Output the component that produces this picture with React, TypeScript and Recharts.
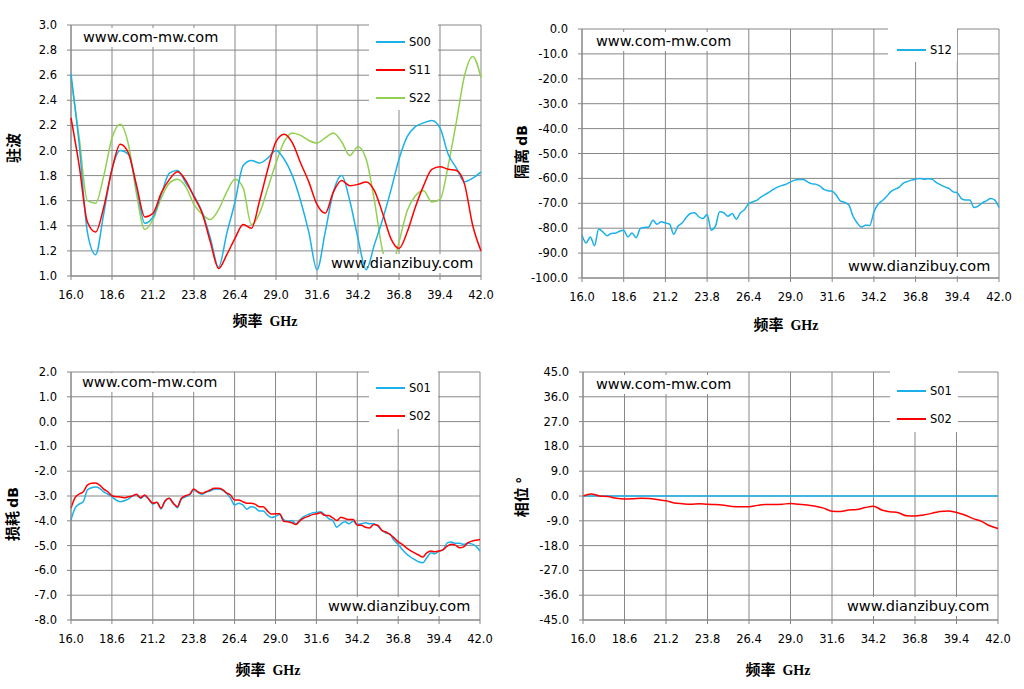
import React from 'react'
import { LineChart, Line, XAxis, YAxis, CartesianGrid, Legend } from 'recharts'

// 频率点 (GHz)
const freqCoarse = [
  16, 16.52, 17.04, 17.56, 18.08, 18.6, 19.12, 19.64, 20.16, 20.68,
  21.2, 21.72, 22.24, 22.76, 23.28, 23.8, 24.32, 24.84, 25.36, 25.88,
  26.4, 26.92, 27.44, 27.96, 28.48, 29, 29.52, 30.04, 30.56, 31.08,
  31.6, 32.12, 32.64, 33.16, 33.68, 34.2, 34.72, 35.24, 35.76, 36.28,
  36.8, 37.32, 37.84, 38.36, 38.88, 39.4, 39.92, 40.44, 40.96, 41.48, 42,
]
const freqFine = [
  16, 16.26, 16.52, 16.78, 17.04, 17.3, 17.56, 17.82, 18.08, 18.34,
  18.6, 18.86, 19.12, 19.38, 19.64, 19.9, 20.16, 20.42, 20.68, 20.94,
  21.2, 21.46, 21.72, 21.98, 22.24, 22.5, 22.76, 23.02, 23.28, 23.54,
  23.8, 24.06, 24.32, 24.58, 24.84, 25.1, 25.36, 25.62, 25.88, 26.14,
  26.4, 26.66, 26.92, 27.18, 27.44, 27.7, 27.96, 28.22, 28.48, 28.74,
  29, 29.26, 29.52, 29.78, 30.04, 30.3, 30.56, 30.82, 31.08, 31.34,
  31.6, 31.86, 32.12, 32.38, 32.64, 32.9, 33.16, 33.42, 33.68, 33.94,
  34.2, 34.46, 34.72, 34.98, 35.24, 35.5, 35.76, 36.02, 36.28, 36.54,
  36.8, 37.06, 37.32, 37.58, 37.84, 38.1, 38.36, 38.62, 38.88, 39.14,
  39.4, 39.66, 39.92, 40.18, 40.44, 40.7, 40.96, 41.22, 41.48, 41.74, 42,
]

const xTicks = [16, 18.6, 21.2, 23.8, 26.4, 29, 31.6, 34.2, 36.8, 39.4, 42]
const vswrTicks = [1, 1.2, 1.4, 1.6, 1.8, 2, 2.2, 2.4, 2.6, 2.8, 3]
const isoTicks = [-100, -90, -80, -70, -60, -50, -40, -30, -20, -10, 0]
const lossTicks = [-8, -7, -6, -5, -4, -3, -2, -1, 0, 1, 2]
const phaseTicks = [-45, -36, -27, -18, -9, 0, 9, 18, 27, 36, 45]

// 驻波
const vswrS00 = [
  2.61, 2.05, 1.35, 1.17, 1.5, 1.85, 2.0, 1.97, 1.7, 1.42,
  1.47, 1.65, 1.82, 1.84, 1.74, 1.64, 1.51, 1.3, 1.07, 1.34,
  1.59, 1.88, 1.92, 1.9, 1.94, 2.0, 1.93, 1.8, 1.6, 1.35,
  1.05, 1.35, 1.67, 1.8, 1.6, 1.3, 1.05, 1.25, 1.45, 1.68,
  1.93, 2.11, 2.19, 2.22, 2.24, 2.18, 1.97, 1.86, 1.75, 1.78, 1.83,
]
const vswrS11 = [
  2.26, 1.88, 1.43, 1.35, 1.55, 1.85, 2.05, 1.98, 1.72, 1.47,
  1.5, 1.66, 1.77, 1.83, 1.76, 1.63, 1.5, 1.27, 1.06, 1.17,
  1.3, 1.41, 1.38, 1.6, 1.85, 2.07, 2.13, 2.06, 1.9, 1.75,
  1.57, 1.5, 1.67, 1.76, 1.72, 1.73, 1.75, 1.68, 1.5, 1.3,
  1.22, 1.35, 1.55, 1.72, 1.85, 1.87, 1.85, 1.84, 1.73, 1.4, 1.2,
]
const vswrS22 = [
  2.57, 2.1, 1.6, 1.58, 1.8, 2.1, 2.21, 2.05, 1.65, 1.37,
  1.45, 1.62, 1.74, 1.77, 1.71, 1.57, 1.49, 1.45, 1.53, 1.67,
  1.77, 1.7, 1.41, 1.5, 1.7, 1.9, 2.07, 2.14, 2.12, 2.08,
  2.06, 2.1, 2.14, 2.07, 1.96, 2.03, 1.93, 1.6, 1.2, 1.05,
  1.27, 1.52, 1.64, 1.68, 1.59, 1.61, 1.88, 2.23, 2.6, 2.75, 2.58,
]

// 隔离
const isoS12 = [
  -82.8, -85.9, -83.5, -87, -80.3, -81.5, -83, -82.1, -82, -81.2,
  -80.8, -83.5, -81.9, -83.8, -80.1, -79.7, -79.5, -76.8, -78.4, -77.4,
  -77.9, -78.4, -82.4, -79.2, -77.9, -75.7, -74.1, -73.8, -75.4, -76.1,
  -74.5, -80.8, -79.2, -73.4, -73.8, -75.2, -74.1, -76.4, -73.8, -72.5,
  -70.1, -69.4, -68.7, -67.4, -66.4, -65.4, -64.3, -63.4, -62.8, -62.3,
  -61.4, -60.7, -60.4, -60.4, -61.3, -62.1, -62.3, -63, -64.4, -65,
  -65.2, -66.8, -69.1, -69.6, -70.7, -75.2, -77.9, -79.5, -78.8, -78.9,
  -73.5, -70.4, -69, -67.4, -65.4, -64.4, -63.6, -62, -61.3, -60.7,
  -60.3, -60, -60.3, -60.1, -60.4, -61.7, -62.6, -63.4, -64, -65.4,
  -65.8, -68.1, -68.7, -68.7, -71.7, -71.1, -69.8, -69, -68.1, -68.7, -71.7,
]

// 损耗
const lossS01 = [
  -3.96, -3.49, -3.33, -3.23, -2.76, -2.67, -2.64, -2.69, -2.83, -2.92,
  -3.03, -3.16, -3.23, -3.19, -3.13, -3.0, -2.96, -3.09, -3.0, -3.12,
  -3.33, -3.25, -3.52, -3.2, -3.09, -3.29, -3.47, -3.12, -3.03, -2.96,
  -2.76, -2.85, -2.93, -2.85, -2.8, -2.73, -2.72, -2.76, -2.89, -3.09,
  -3.36, -3.29, -3.36, -3.53, -3.43, -3.47, -3.6, -3.6, -3.76, -3.87,
  -3.82, -3.75, -3.95, -4.02, -3.99, -4.12, -3.95, -3.82, -3.75, -3.68,
  -3.66, -3.64, -3.75, -3.91, -3.99, -4.26, -4.12, -4.04, -4.12, -4.02,
  -4.15, -4.12, -4.08, -4.12, -4.12, -4.22, -4.39, -4.49, -4.55, -4.79,
  -4.95, -5.16, -5.33, -5.46, -5.56, -5.65, -5.69, -5.49, -5.29, -5.33,
  -5.22, -5.16, -4.89, -4.85, -4.91, -4.91, -4.95, -4.91, -4.93, -5.02, -5.22,
]
const lossS02 = [
  -3.49, -3.07, -2.92, -2.83, -2.56, -2.49, -2.48, -2.56, -2.72, -2.83,
  -2.99, -3.03, -3.04, -3.07, -3.03, -3.0, -2.93, -3.07, -2.96, -3.12,
  -3.29, -3.25, -3.49, -3.2, -3.09, -3.29, -3.43, -3.09, -2.99, -2.93,
  -2.72, -2.83, -2.89, -2.83, -2.76, -2.69, -2.69, -2.73, -2.87, -2.96,
  -3.16, -3.16, -3.23, -3.29, -3.29, -3.33, -3.43, -3.43, -3.6, -3.73,
  -3.72, -3.72, -4.02, -4.04, -4.08, -4.15, -3.99, -3.88, -3.82, -3.75,
  -3.72, -3.68, -3.78, -3.79, -3.88, -3.99, -3.86, -3.91, -3.95, -3.95,
  -4.18, -4.18, -4.26, -4.29, -4.15, -4.18, -4.39, -4.45, -4.55, -4.69,
  -4.85, -4.95, -5.09, -5.2, -5.29, -5.38, -5.46, -5.29, -5.22, -5.25,
  -5.22, -5.16, -5.02, -4.95, -4.98, -5.09, -5.05, -4.89, -4.82, -4.78, -4.75,
]

// 相位
const phaseS01 = [
  0, 0, 0, 0, 0, 0, 0, 0, 0, 0,
  0, 0, 0, 0, 0, 0, 0, 0, 0, 0,
  0, 0, 0, 0, 0, 0, 0, 0, 0, 0,
  0, 0, 0, 0, 0, 0, 0, 0, 0, 0,
  0, 0, 0, 0, 0, 0, 0, 0, 0, 0, 0,
]
const phaseS02 = [
  0, 0.7, 0, -0.2, -0.8, -1.1, -1.0, -0.8, -0.9, -1.3,
  -1.75, -2.5, -2.8, -3.0, -2.8, -3.0, -3.1, -3.4, -3.8, -3.9,
  -3.9, -3.4, -3.1, -3.1, -3.0, -2.7, -3.0, -3.3, -3.7, -4.4,
  -5.5, -5.6, -5.1, -4.9, -4.2, -3.7, -5.1, -5.7, -6.1, -7.2,
  -7.3, -6.9, -6.3, -5.6, -5.4, -6.0, -6.9, -8.2, -9.2, -10.8, -11.8,
]

const BLUE = '#1ab1ea'
const RED = '#ff0000'
const GREEN = '#92d050'
const GRID = '#878787'
const FONT = 'DejaVu Sans'
const CJK = '"Noto Sans CJK SC", sans-serif'

const vswrData = freqCoarse.map((f, i) => ({ f, S00: vswrS00[i], S11: vswrS11[i], S22: vswrS22[i] }))
const isoData = freqFine.map((f, i) => ({ f, S12: isoS12[i] }))
const lossData = freqFine.map((f, i) => ({ f, S01: lossS01[i], S02: lossS02[i] }))
const phaseData = freqCoarse.map((f, i) => ({ f, S01: phaseS01[i], S02: phaseS02[i] }))

const fmt = (v: number) => v.toFixed(1)
const tickStyle = { fontSize: 11.5, fill: '#000', fontFamily: FONT }

// 网址水印（白底）
function Mark({ text, x, y }: { text: string; x: number; y: number }) {
  return (
    <div style={{
      position: 'absolute', left: x - 3, top: y - 9.5, padding: '0 3px', background: '#fff',
      fontFamily: FONT, fontSize: 14.5, lineHeight: '19px', color: '#000', whiteSpace: 'nowrap',
    }}>{text}</div>
  )
}

function Panel({ plot, data, series, yDomain, yTicks, legend, marks }: any) {
  // 半像素偏移，让网格线更清晰
  const ox = plot.x - 60 + 0.5
  const oy = plot.y - 10 + 0.5
  const W = plot.w + 85
  const H = plot.h + 70
  const base = series.filter((s: any) => !s.over)
  const top = series.filter((s: any) => s.over)
  const renderLegend = () => (
    <div style={{ width: legend.w, height: legend.h, background: '#fff', position: 'relative' }}>
      {series.map((s: any, i: number) => (
        <div key={s.key} style={{
          position: 'absolute', left: legend.lineX - legend.x, top: legend.rowY - legend.y + i * legend.gap - 8,
          height: 16, display: 'flex', alignItems: 'center', fontFamily: FONT, fontSize: 11.5, color: '#000',
        }}>
          <span style={{ width: 29, height: 0, borderTop: `2px solid ${s.color}` }} />
          <span style={{ marginLeft: 4 }}>{s.key}</span>
        </div>
      ))}
    </div>
  )
  const line = (s: any) => (
    <Line key={s.key} type="monotone" dataKey={s.key} name={s.key} stroke={s.color} strokeWidth={1.5}
      dot={false} activeDot={false} isAnimationActive={false} />
  )
  return (
    <>
      <div style={{ position: 'absolute', left: ox, top: oy }}>
        <LineChart width={W} height={H} data={data} margin={{ top: 10, right: 25, bottom: 30, left: 0 }}>
          <CartesianGrid stroke={GRID} strokeWidth={1} />
          <XAxis type="number" dataKey="f" domain={[16, 42]} ticks={xTicks} interval={0}
            tickFormatter={fmt} stroke={GRID} tickSize={4} tickMargin={11} height={30} tick={tickStyle} />
          <YAxis type="number" domain={yDomain} ticks={yTicks} interval={0} allowDataOverflow
            tickFormatter={fmt} stroke={GRID} tickSize={4} tickMargin={10} width={60} tick={tickStyle} />
          <Legend layout="horizontal" verticalAlign="middle" align="center" content={renderLegend}
            width={legend.w} height={legend.h}
            wrapperStyle={{ left: legend.x - ox, top: legend.y - oy, width: legend.w, height: legend.h, margin: 0 }} />
          {base.map(line)}
        </LineChart>
      </div>
      {marks.map((m: any) => <Mark key={m.text} text={m.text} x={m.x} y={m.y} />)}
      {top.length > 0 && (
        <div style={{ position: 'absolute', left: ox, top: oy }}>
          <LineChart width={W} height={H} data={data} margin={{ top: 10, right: 25, bottom: 60, left: 60 }}>
            <XAxis hide type="number" dataKey="f" domain={[16, 42]} ticks={xTicks} />
            <YAxis hide type="number" domain={yDomain} ticks={yTicks} allowDataOverflow />
            {top.map(line)}
          </LineChart>
        </div>
      )}
    </>
  )
}

function Title({ cn, en, x, y, rotate }: { cn: string; en: string; x: number; y: number; rotate?: boolean }) {
  return (
    <div style={{
      position: 'absolute', left: x, top: y, whiteSpace: 'pre',
      transform: `translate(-50%, -50%)${rotate ? ' rotate(-90deg)' : ''}`,
      fontFamily: CJK, fontWeight: 700, fontSize: 15, color: '#000', lineHeight: '18px',
    }}>
      {cn}
      <span style={{ fontFamily: rotate ? FONT : '"Liberation Serif", serif', fontSize: 14 }}>{en}</span>
    </div>
  )
}

const comMw = 'www.com-mw.com'
const dianzi = 'www.dianzibuy.com'

export default function App() {
  return (
    <div style={{ position: 'absolute', left: 0, top: 0, width: 1024, height: 689, background: '#fff', overflow: 'hidden' }}>
      {/* 驻波 */}
      <Panel plot={{ x: 70, y: 24, w: 410, h: 251 }} data={vswrData}
        series={[{ key: 'S00', color: BLUE, over: true }, { key: 'S11', color: RED, over: true }, { key: 'S22', color: GREEN }]}
        yDomain={[1, 3]} yTicks={vswrTicks}
        legend={{ x: 369, y: 24, w: 69, h: 86, lineX: 376, rowY: 42, gap: 28 }}
        marks={[{ text: comMw, x: 83, y: 37 }, { text: dianzi, x: 331, y: 263 }]} />
      {/* 隔离 */}
      <Panel plot={{ x: 581, y: 28, w: 417, h: 249 }} data={isoData}
        series={[{ key: 'S12', color: BLUE }]}
        yDomain={[-100, 0]} yTicks={isoTicks}
        legend={{ x: 888, y: 28, w: 69, h: 34, lineX: 897, rowY: 50, gap: 28 }}
        marks={[{ text: comMw, x: 596, y: 41 }, { text: dianzi, x: 848, y: 266 }]} />
      {/* 损耗 */}
      <Panel plot={{ x: 70, y: 371, w: 409, h: 248 }} data={lossData}
        series={[{ key: 'S01', color: BLUE }, { key: 'S02', color: RED }]}
        yDomain={[-8, 2]} yTicks={lossTicks}
        legend={{ x: 369, y: 371, w: 69, h: 58, lineX: 376, rowY: 388, gap: 27.6 }}
        marks={[{ text: comMw, x: 82, y: 382 }, { text: dianzi, x: 328, y: 606 }]} />
      {/* 相位 */}
      <Panel plot={{ x: 582, y: 371, w: 415, h: 248 }} data={phaseData}
        series={[{ key: 'S01', color: BLUE }, { key: 'S02', color: RED }]}
        yDomain={[-45, 45]} yTicks={phaseTicks}
        legend={{ x: 890, y: 371, w: 68, h: 61, lineX: 897, rowY: 391, gap: 27.6 }}
        marks={[{ text: comMw, x: 596, y: 384 }, { text: dianzi, x: 847, y: 606 }]} />

      <Title cn="频率  " en="GHz" x={265} y={321} />
      <Title cn="频率  " en="GHz" x={786} y={325} />
      <Title cn="频率  " en="GHz" x={268} y={670} />
      <Title cn="频率  " en="GHz" x={778} y={670} />
      <Title cn="驻波" en="" x={13} y={148} rotate />
      <Title cn="隔离 " en="dB" x={521} y={152} rotate />
      <Title cn="损耗 " en="dB" x={12} y={514} rotate />
      <Title cn="相位 " en="°" x={521} y={497} rotate />
    </div>
  )
}
